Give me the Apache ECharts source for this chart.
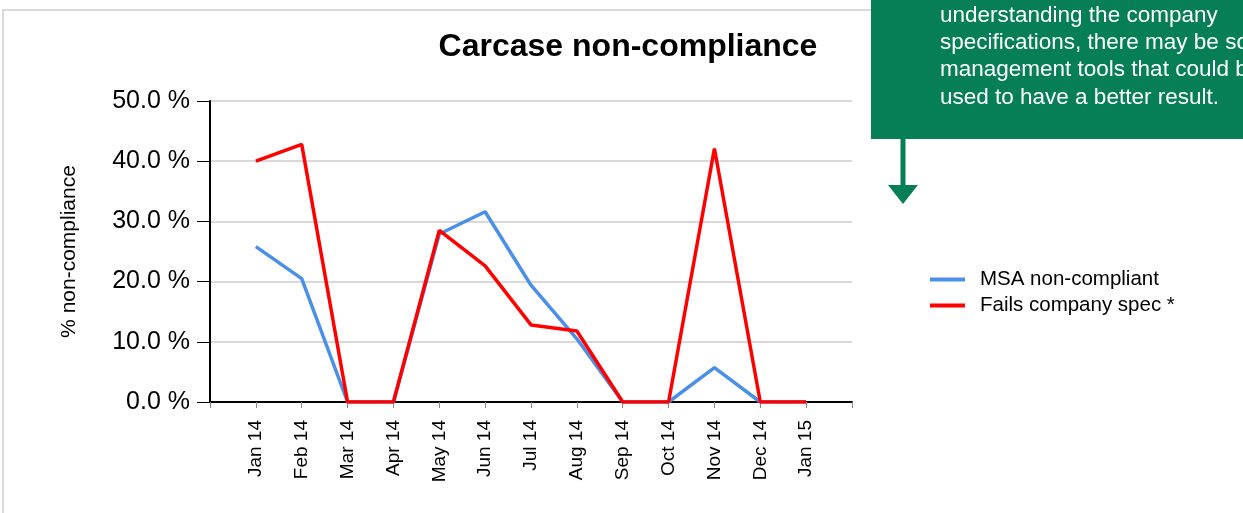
<!DOCTYPE html>
<html><head><meta charset="utf-8">
<script src="https://cdn.jsdelivr.net/npm/echarts@6/dist/echarts.min.js"></script>
<style>html,body{margin:0;padding:0;background:#fff}#c{width:1243px;height:513px}</style>
</head><body><div id="c"></div>
<script>
const categories = ['', 'Jan 14','Feb 14','Mar 14','Apr 14','May 14','Jun 14','Jul 14','Aug 14','Sep 14','Oct 14','Nov 14','Dec 14','Jan 15', ''];
const msaValues = [null, 25.8, 20.5, 0, 0, 27.9, 31.6, 19.4, 10.5, 0, 0, 5.7, 0, 0, null];
const failsValues = [null, 40.0, 42.8, 0, 0, 28.5, 22.6, 12.8, 11.8, 0, 0, 42.1, 0, 0, null];
const yTicks = [0, 10, 20, 30, 40, 50];
const noteLines = ['understanding the company', 'specifications, there may be some', 'management tools that could be', 'used to have a better result.'];

const FONT = '"Liberation Sans", Arial, sans-serif';
const chart = echarts.init(document.getElementById('c'), null, {renderer: 'canvas'});
chart.setOption({
  animation: false,
  title: {text: 'Carcase non-compliance', left: 623, top: 26, textAlign: 'center',
    textStyle: {fontFamily: FONT, fontSize: 32, fontWeight: 'bold', color: '#000'}},
  grid: {left: 210, right: 391, top: 101, bottom: 111, containLabel: false},
  legend: {orient: 'vertical', left: 925, top: 264, itemWidth: 35, itemHeight: 4, itemGap: 5, icon: 'rect',
    textStyle: {fontFamily: FONT, fontSize: 20.5, color: '#000', padding: [0, 0, 0, 10]},
    data: ['MSA non-compliant', 'Fails company spec *']},
  xAxis: {type: 'category', data: categories, boundaryGap: false,
    axisLine: {lineStyle: {color: '#000', width: 2}},
    axisTick: {show: true, length: 6, lineStyle: {color: '#888', width: 1}, alignWithLabel: true},
    axisLabel: {rotate: 90, margin: 18, interval: 0, fontFamily: FONT, fontSize: 19, color: '#000'},
    splitLine: {show: false}},
  yAxis: {type: 'value', min: yTicks[0], max: yTicks[yTicks.length-1], interval: 10,
    name: '% non-compliance', nameLocation: 'middle', nameGap: 130, nameRotate: 90,
    nameTextStyle: {fontFamily: FONT, fontSize: 21, color: '#000'},
    axisLine: {show: true, lineStyle: {color: '#000', width: 2}},
    axisTick: {show: true, length: 13, lineStyle: {color: '#000', width: 1}},
    axisLabel: {margin: 20, fontFamily: FONT, fontSize: 25, color: '#000', formatter: v => v.toFixed(1) + ' %'},
    splitLine: {show: true, lineStyle: {color: '#d9d9d9', width: 2}}},
  series: [
    {name: 'MSA non-compliant', type: 'line', data: msaValues, symbol: 'none', z: 2,
      lineStyle: {color: '#4a8fe8', width: 3.5}, itemStyle: {color: '#4a8fe8'}},
    {name: 'Fails company spec *', type: 'line', data: failsValues, symbol: 'none', z: 3,
      lineStyle: {color: '#ff0000', width: 3.5}, itemStyle: {color: '#ff0000'}}
  ],
  graphic: [
    {type: 'line', shape: {x1: 3, y1: 9, x2: 3, y2: 513}, style: {stroke: '#d9d9d9', lineWidth: 2}, silent: true},
    {type: 'line', shape: {x1: 2, y1: 10, x2: 880, y2: 10}, style: {stroke: '#d9d9d9', lineWidth: 2}, silent: true},
    {type: 'rect', shape: {x: 871, y: 0, width: 380, height: 139}, style: {fill: '#077f56'}, z: 10, silent: true},
    {type: 'line', shape: {x1: 903, y1: 139, x2: 903, y2: 187}, style: {stroke: '#077f56', lineWidth: 5}, z: 10, silent: true},
    {type: 'polygon', shape: {points: [[888, 185], [918, 185], [903, 204]]}, style: {fill: '#077f56'}, z: 10, silent: true},
    ...noteLines.map((t, i) => ({type: 'text', left: 940, top: 4 + i * 27.3, z: 11, silent: true,
      style: {text: t, fill: '#fff', font: '22.5px ' + FONT}}))
  ]
});
</script></body></html>
